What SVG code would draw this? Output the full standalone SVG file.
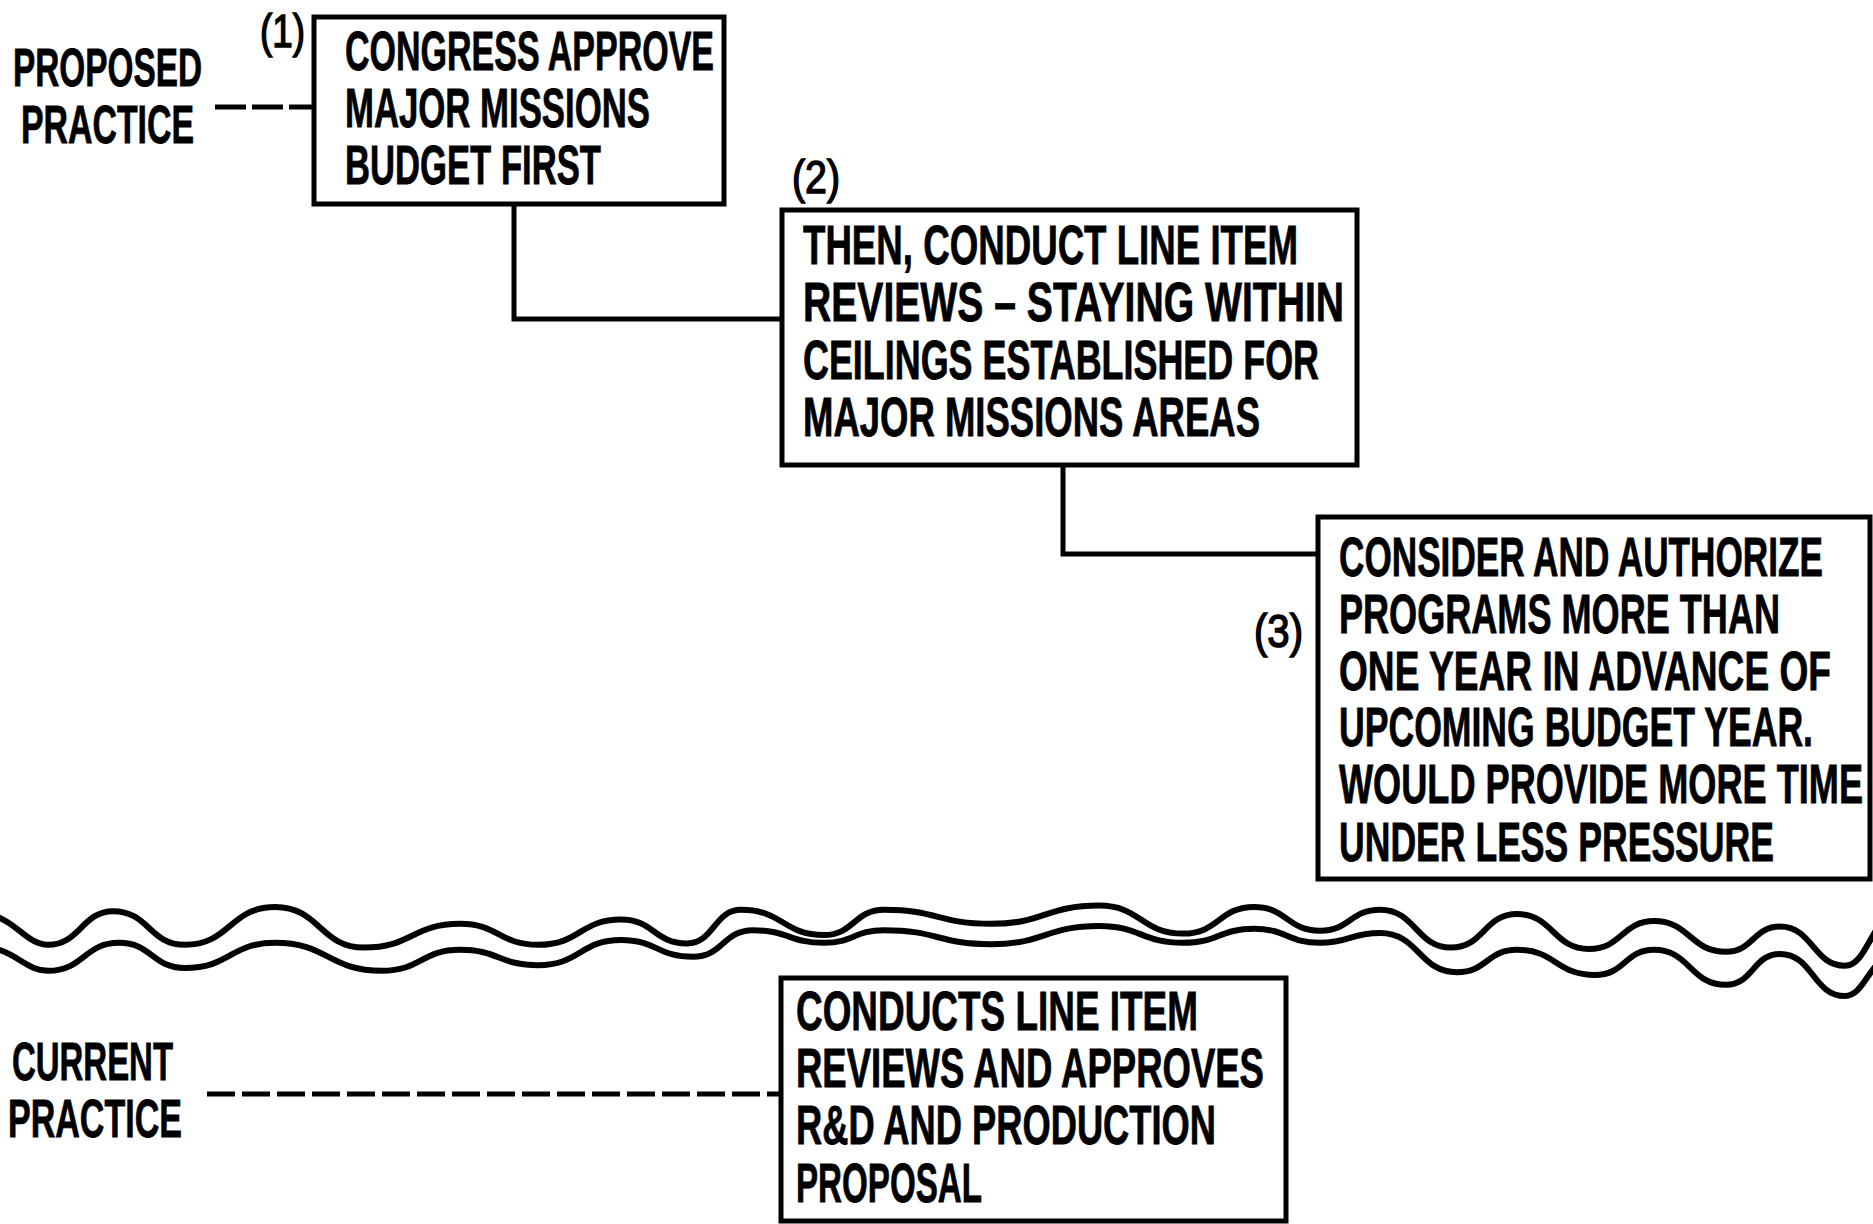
<svg xmlns="http://www.w3.org/2000/svg" width="1873" height="1224" viewBox="0 0 1873 1224">
<style>
.bg{fill:#ffffff}
.box{fill:#ffffff;stroke:#000;stroke-width:5}
.t{font-family:"Liberation Sans","Arial",sans-serif;font-weight:bold;font-size:55px;fill:#000;stroke:#000;stroke-width:0.8}
.lbl{font-family:"Liberation Sans","Arial",sans-serif;font-weight:bold;font-size:54px;fill:#000;stroke:#000;stroke-width:0.8}
.num{font-family:"Liberation Sans","Arial",sans-serif;font-weight:normal;font-size:46px;fill:#000;stroke:#000;stroke-width:1.5}
.conn{fill:none;stroke:#000;stroke-width:5}
.dash{fill:none;stroke:#000;stroke-width:5;stroke-dasharray:28 7}
.wave{fill:none;stroke:#000;stroke-width:6;stroke-linejoin:round}
</style>
<rect class="bg" x="0" y="0" width="1873" height="1224"/>

<g id="labels">
  <text class="lbl" transform="scale(0.62 1)" x="20.97" y="86" textLength="304.8" lengthAdjust="spacingAndGlyphs">PROPOSED</text>
  <text class="lbl" transform="scale(0.62 1)" x="33.87" y="143" textLength="279" lengthAdjust="spacingAndGlyphs">PRACTICE</text>
  <text class="lbl" transform="scale(0.62 1)" x="19.35" y="1080" textLength="259.7" lengthAdjust="spacingAndGlyphs">CURRENT</text>
  <text class="lbl" transform="scale(0.62 1)" x="12.9" y="1137" textLength="280.6" lengthAdjust="spacingAndGlyphs">PRACTICE</text>
</g>

<g id="connectors">
  <path class="dash" d="M215 107 H314" style="stroke-dasharray:31 6"/>
  <path class="dash" d="M207 1094 H781"/>
  <path class="conn" d="M514 205 V319 H782"/>
  <path class="conn" d="M1063 465 V554 H1318"/>
</g>

<g id="node1">
  <rect class="box" x="314" y="17" width="410" height="187"/>
  <text class="num" transform="scale(0.8 1)" x="325" y="47" textLength="56.25" lengthAdjust="spacingAndGlyphs">(1)</text>
  <text class="t" transform="scale(0.62 1)" x="556.45" y="70" textLength="595.2" lengthAdjust="spacingAndGlyphs">CONGRESS APPROVE</text>
  <text class="t" transform="scale(0.62 1)" x="556.45" y="127" textLength="491.9" lengthAdjust="spacingAndGlyphs">MAJOR MISSIONS</text>
  <text class="t" transform="scale(0.62 1)" x="556.45" y="184" textLength="412.9" lengthAdjust="spacingAndGlyphs">BUDGET FIRST</text>
</g>

<g id="node2">
  <rect class="box" x="782" y="210" width="575" height="255"/>
  <text class="num" transform="scale(0.8 1)" x="990" y="193" textLength="60" lengthAdjust="spacingAndGlyphs">(2)</text>
  <text class="t" transform="scale(0.62 1)" x="1295.16" y="264" textLength="798.4" lengthAdjust="spacingAndGlyphs">THEN, CONDUCT LINE ITEM</text>
  <text class="t" transform="scale(0.62 1)" x="1295.16" y="321" textLength="872.6" lengthAdjust="spacingAndGlyphs">REVIEWS – STAYING WITHIN</text>
  <text class="t" transform="scale(0.62 1)" x="1295.16" y="379" textLength="832.3" lengthAdjust="spacingAndGlyphs">CEILINGS ESTABLISHED FOR</text>
  <text class="t" transform="scale(0.62 1)" x="1295.16" y="436" textLength="737.1" lengthAdjust="spacingAndGlyphs">MAJOR MISSIONS AREAS</text>
</g>

<g id="node3">
  <rect class="box" x="1318" y="517" width="552" height="362"/>
  <text class="num" transform="scale(0.8 1)" x="1567.5" y="647" textLength="61.25" lengthAdjust="spacingAndGlyphs">(3)</text>
  <text class="t" transform="scale(0.62 1)" x="2159.68" y="576" textLength="780.6" lengthAdjust="spacingAndGlyphs">CONSIDER AND AUTHORIZE</text>
  <text class="t" transform="scale(0.62 1)" x="2159.68" y="633" textLength="711.3" lengthAdjust="spacingAndGlyphs">PROGRAMS MORE THAN</text>
  <text class="t" transform="scale(0.62 1)" x="2159.68" y="690" textLength="793.5" lengthAdjust="spacingAndGlyphs">ONE YEAR IN ADVANCE OF</text>
  <text class="t" transform="scale(0.62 1)" x="2159.68" y="746" textLength="764.5" lengthAdjust="spacingAndGlyphs">UPCOMING BUDGET YEAR.</text>
  <text class="t" transform="scale(0.62 1)" x="2159.68" y="803" textLength="845.2" lengthAdjust="spacingAndGlyphs">WOULD PROVIDE MORE TIME</text>
  <text class="t" transform="scale(0.62 1)" x="2159.68" y="861" textLength="701.6" lengthAdjust="spacingAndGlyphs">UNDER LESS PRESSURE</text>
</g>

<g id="node4">
  <rect class="box" x="781" y="978" width="505" height="243"/>
  <text class="t" transform="scale(0.62 1)" x="1283.87" y="1030" textLength="648.4" lengthAdjust="spacingAndGlyphs">CONDUCTS LINE ITEM</text>
  <text class="t" transform="scale(0.62 1)" x="1283.87" y="1087" textLength="754.8" lengthAdjust="spacingAndGlyphs">REVIEWS AND APPROVES</text>
  <text class="t" transform="scale(0.62 1)" x="1283.87" y="1144" textLength="677.4" lengthAdjust="spacingAndGlyphs">R&amp;D AND PRODUCTION</text>
  <text class="t" transform="scale(0.62 1)" x="1283.87" y="1202" textLength="300" lengthAdjust="spacingAndGlyphs">PROPOSAL</text>
</g>

<g id="divider">
  <path class="wave" d="M-20 914 C14 914 24 944.8 48 944.8 C80 944.8 82 911.2 113 911.2 C149 911.2 149 944.8 185 944.8 C230 944.8 230 907 275 907 C320 907 320 947.6 364 947.6 C412 947.6 412 923.8 460 923.8 C499 923.8 499 944.8 538 944.8 C580 944.8 580 919.6 621 919.6 C654 919.6 654 943.4 687 943.4 C714 943.4 714 909.8 741 909.8 C783 909.8 783 935 824 935 C854 935 854 909.8 884 909.8 C938 909.8 938 923.8 991 923.8 C1045 923.8 1045 905.6 1099 905.6 C1141 905.6 1141 933.6 1183 933.6 C1219 933.6 1219 907 1254 907 C1287 907 1287 930.8 1320 930.8 C1350 930.8 1350 909.8 1380 909.8 C1416 909.8 1416 947.6 1451 947.6 C1484 947.6 1484 914 1517 914 C1553 914 1553 949 1589 949 C1622 949 1622 921 1654 921 C1690 921 1690 951.8 1726 951.8 C1753 951.8 1753 926.6 1780 926.6 C1813 926.6 1813 965.8 1845 965.8 C1860 965.8 1866 945 1880 923.8"/>
  <path class="wave" d="M-20 947 C14 947 24 970.8 48 970.8 C84 970.8 84 942.8 119 942.8 C152 942.8 152 968 185 968 C230 968 230 942.8 275 942.8 C328 942.8 328 970.8 382 970.8 C421 970.8 421 949.8 460 949.8 C499 949.8 499 965.2 538 965.2 C580 965.2 580 940 621 940 C657 940 657 956.8 693 956.8 C723 956.8 723 930.2 753 930.2 C789 930.2 789 942.8 824 942.8 C854 942.8 854 930.2 884 930.2 C938 930.2 938 944.2 991 944.2 C1045 944.2 1045 926 1099 926 C1141 926 1141 942.8 1183 942.8 C1219 942.8 1219 928.8 1254 928.8 C1287 928.8 1287 942.8 1320 942.8 C1350 942.8 1350 933 1380 933 C1419 933 1419 972.2 1457 972.2 C1487 972.2 1487 949.8 1517 949.8 C1556 949.8 1556 975 1595 975 C1625 975 1625 949.8 1654 949.8 C1690 949.8 1690 984.8 1726 984.8 C1753 984.8 1753 954 1780 954 C1813 954 1813 996 1845 996 C1860 996 1866 975 1880 961"/>
</g>
</svg>
